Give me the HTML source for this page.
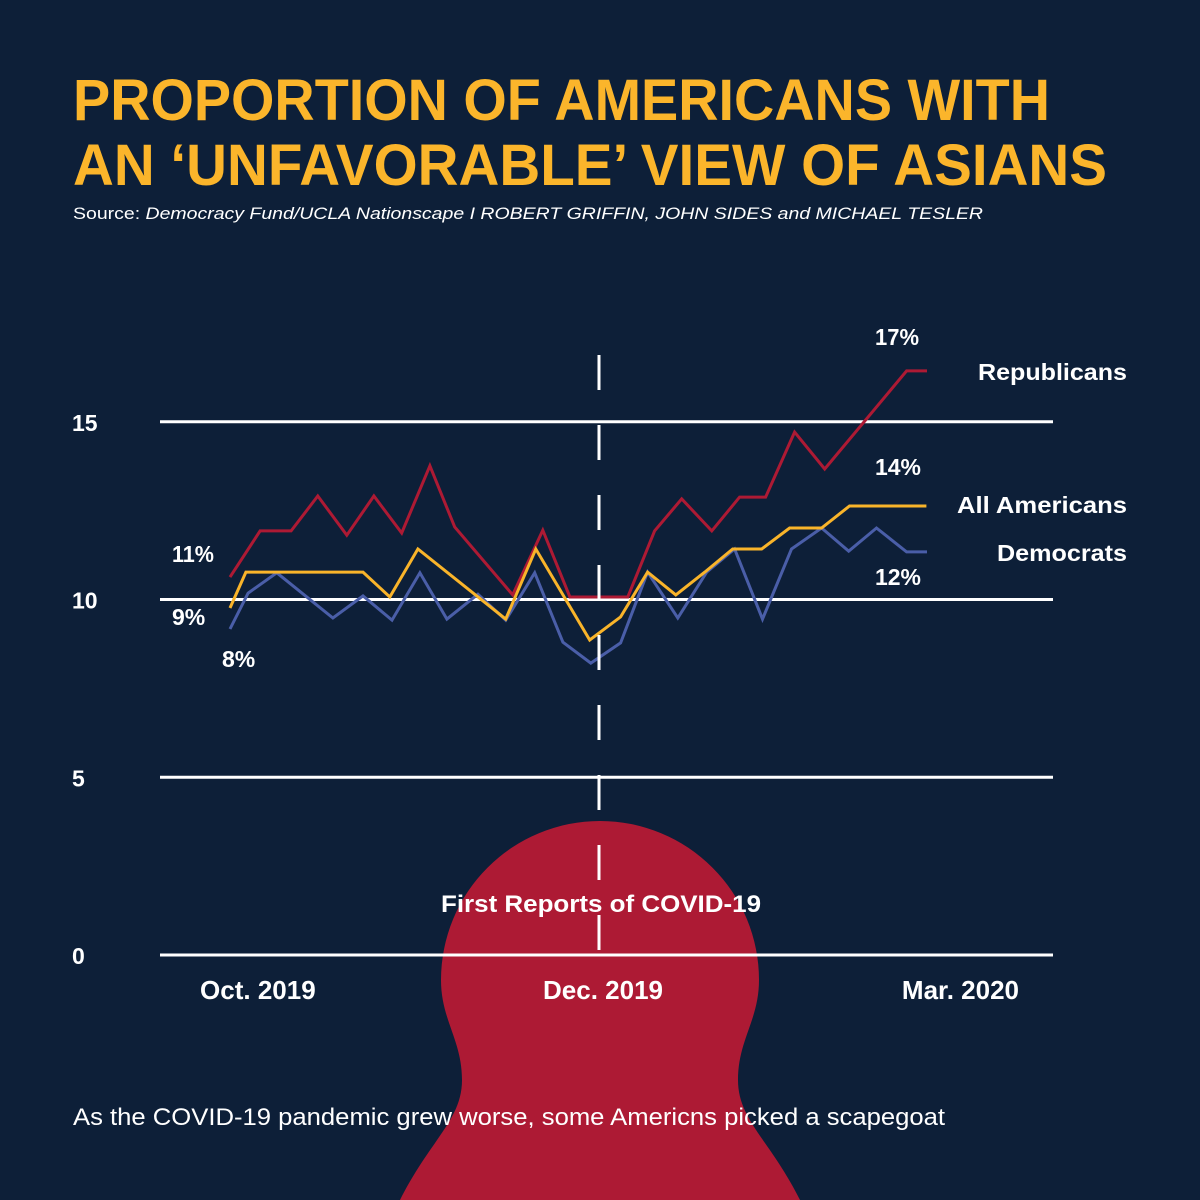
<!DOCTYPE html>
<html><head><meta charset="utf-8"><style>
html,body{margin:0;padding:0;background:#0d1f38;}
svg{display:block;}
text{font-family:"Liberation Sans",sans-serif;}
</style></head><body>
<svg width="1200" height="1200" viewBox="0 0 1200 1200">
<rect x="0" y="0" width="1200" height="1200" fill="#0d1f38"/>
<path d="M 400 1200 C 430 1140, 462 1120, 462 1080 C 462 1040, 441 1020, 441 980 A 159 159 0 0 1 759 980 C 759 1020, 738 1040, 738 1080 C 738 1120, 770 1140, 800 1200 Z" fill="#ad1a34"/>
<text x="73" y="120" font-size="58" font-weight="bold" fill="#fbb52b" textLength="977" lengthAdjust="spacingAndGlyphs">PROPORTION OF AMERICANS WITH</text>
<text x="73" y="185" font-size="58" font-weight="bold" fill="#fbb52b" textLength="1034" lengthAdjust="spacingAndGlyphs">AN ‘UNFAVORABLE’ VIEW OF ASIANS</text>
<text x="73" y="219" font-size="17" fill="#ffffff" textLength="910" lengthAdjust="spacingAndGlyphs">Source: <tspan font-style="italic">Democracy Fund/UCLA Nationscape I ROBERT GRIFFIN, JOHN SIDES and MICHAEL TESLER</tspan></text>
<g id="grid"></g>
<g id="lines"></g>
<line x1="599" y1="355" x2="599" y2="955" stroke="#ffffff" stroke-width="3" stroke-dasharray="35 35"/>
<text x="601" y="912" font-size="24" font-weight="bold" fill="#ffffff" text-anchor="middle" textLength="320" lengthAdjust="spacingAndGlyphs">First Reports of COVID-19</text>
<g id="xlab"></g>
<g font-size="23" font-weight="bold" fill="#ffffff">
<text x="875" y="345" textLength="44" lengthAdjust="spacingAndGlyphs">17%</text>
<text x="978" y="380" textLength="149" lengthAdjust="spacingAndGlyphs">Republicans</text>
<text x="875" y="475" textLength="46" lengthAdjust="spacingAndGlyphs">14%</text>
<text x="957" y="513" textLength="170" lengthAdjust="spacingAndGlyphs">All Americans</text>
<text x="997" y="561" textLength="130" lengthAdjust="spacingAndGlyphs">Democrats</text>
<text x="875" y="585" textLength="46" lengthAdjust="spacingAndGlyphs">12%</text>
<text x="172" y="562" textLength="42" lengthAdjust="spacingAndGlyphs">11%</text>
<text x="172" y="625">9%</text>
<text x="222" y="667">8%</text>
</g>
<text x="73" y="1125" font-size="24" fill="#ffffff" textLength="872" lengthAdjust="spacingAndGlyphs">As the COVID-19 pandemic grew worse, some Americns picked a scapegoat</text>
</svg>
<script>
const yTicks = [0, 5, 10, 15];
const yTickLabels = ["0", "5", "10", "15"];
const xLabels = ["Oct. 2019", "Dec. 2019", "Mar. 2020"];
const xLabelPos = [1.0, 13.38, 26.2];
const repT = [0,1.08,2.19,3.15,4.19,5.16,6.16,7.17,8.06,10.14,11.22,12.19,14.27,15.23,16.2,17.28,18.28,19.21,20.25,21.33,24.27,25];
const repV = [10.63,11.93,11.93,12.91,11.81,12.91,11.87,13.76,12.04,10.13,11.95,10.07,10.07,11.93,12.83,11.93,12.88,12.88,14.71,13.67,16.43,16.43];
const allT = [0,0.57,4.77,5.73,6.74,9.89,10.97,12.9,14.01,14.98,15.99,17.03,18.03,19.07,20.07,21.22,22.22,24.98];
const allV = [9.76,10.77,10.77,10.07,11.42,9.45,11.42,8.86,9.51,10.77,10.13,10.77,11.42,11.42,12.01,12.01,12.63,12.63];
const demT = [0,0.65,1.68,3.69,4.77,5.81,6.81,7.78,8.89,9.89,10.93,11.94,12.94,14.01,14.98,16.06,17.1,18.1,19.1,20.14,21.22,22.19,23.19,24.27,25];
const demV = [9.17,10.18,10.75,9.48,10.10,9.42,10.75,9.45,10.15,9.42,10.75,8.80,8.21,8.78,10.77,9.48,10.77,11.42,9.45,11.42,12.01,11.36,12.01,11.34,11.34];

const NS = "http://www.w3.org/2000/svg";
function xs(t){ return 230 + t * 27.88; }
function ys(v){ return 955 - v * 35.55; }

const grid = document.getElementById('grid');
yTicks.forEach((v, i) => {
  const l = document.createElementNS(NS, 'line');
  l.setAttribute('x1', 160); l.setAttribute('x2', 1053);
  l.setAttribute('y1', ys(v)); l.setAttribute('y2', ys(v));
  l.setAttribute('stroke', '#ffffff'); l.setAttribute('stroke-width', 3);
  
  
  grid.appendChild(l);
  const t = document.createElementNS(NS, 'text');
  t.setAttribute('x', 72); t.setAttribute('y', ys(v) + 9);
  t.setAttribute('font-size', 23); t.setAttribute('font-weight', 'bold'); t.setAttribute('fill', '#ffffff');
  t.textContent = yTickLabels[i];
  
  
  grid.appendChild(t);
});

const lines = document.getElementById('lines');
function drawLine(T, V, color, name){
  const p = document.createElementNS(NS, 'polyline');
  p.setAttribute('points', T.map((t, i) => xs(t).toFixed(1) + ',' + ys(V[i]).toFixed(1)).join(' '));
  p.setAttribute('fill', 'none'); p.setAttribute('stroke', color);
  p.setAttribute('stroke-width', 3); p.setAttribute('stroke-linejoin', 'miter');
  
  
  lines.appendChild(p);
}
drawLine(repT, repV, '#ad1a34', 'republicans-line');
drawLine(demT, demV, '#4a5ea8', 'democrats-line');
drawLine(allT, allV, '#f9b42a', 'all-americans-line');

const xl = document.getElementById('xlab');
xLabels.forEach((s, i) => {
  const t = document.createElementNS(NS, 'text');
  t.setAttribute('x', xs(xLabelPos[i])); t.setAttribute('y', 999);
  t.setAttribute('font-size', 26); t.setAttribute('font-weight', 'bold'); t.setAttribute('fill', '#ffffff');
  t.setAttribute('text-anchor', 'middle');
  t.textContent = s;
  
  
  xl.appendChild(t);
});
</script>
</body></html>
